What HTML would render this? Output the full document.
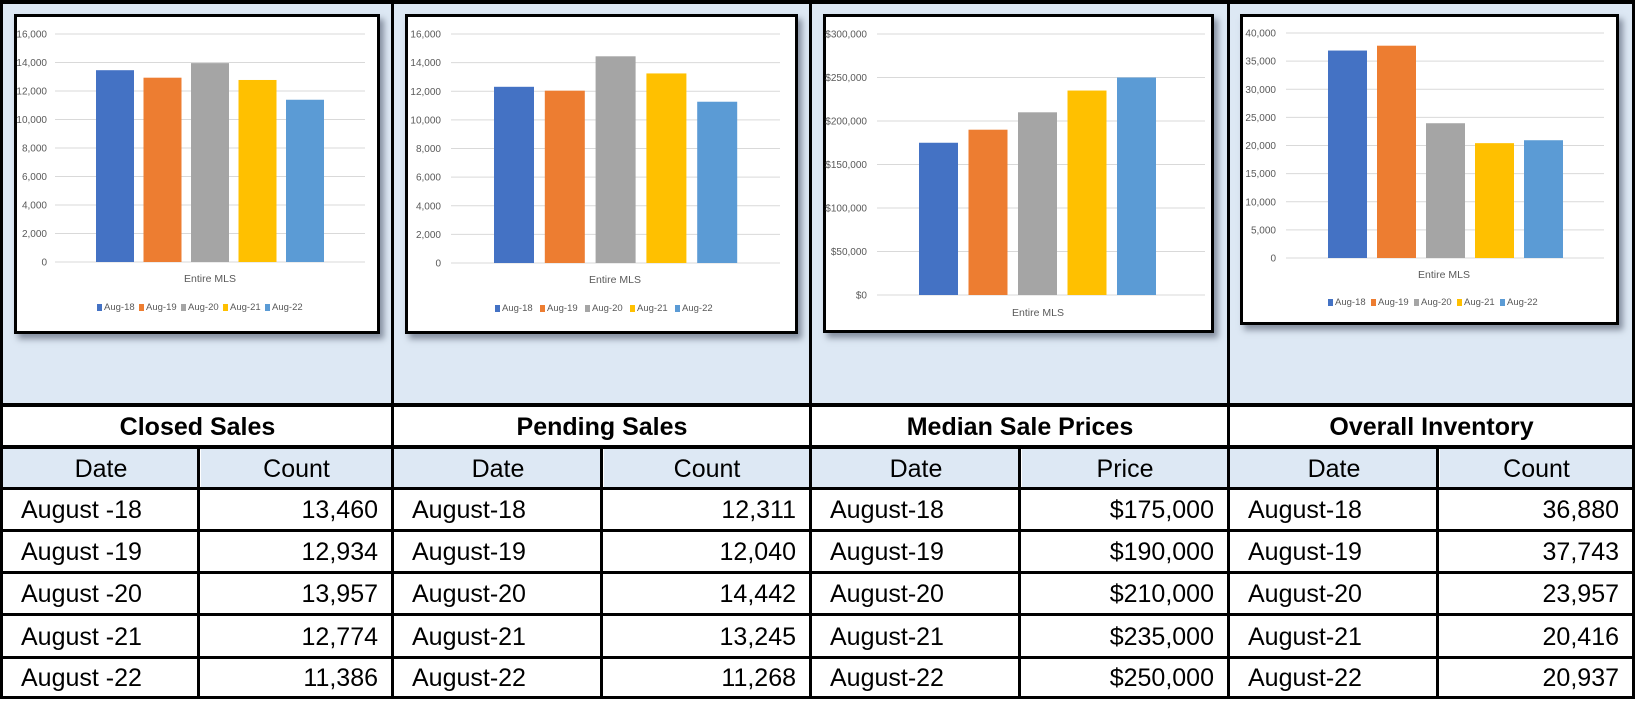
<!DOCTYPE html>
<html><head><meta charset="utf-8">
<style>
body{margin:0;width:1635px;height:701px;overflow:hidden;background:#fff;font-family:"Liberation Sans",sans-serif;position:relative}
.bg{position:absolute;left:0;top:0;width:1635px;height:405px;background:#dde8f4}
.box{position:absolute;background:#fff;border:3px solid #000;box-sizing:border-box;box-shadow:4px 5px 6px rgba(60,70,90,.55)}
.hl{position:absolute;left:0;width:1635px;background:#000}
.vl{position:absolute;width:3px;background:#000}
.cell{position:absolute;height:40px;line-height:42px;font-size:25px;color:#000;white-space:nowrap;box-sizing:border-box}
.ttl{font-weight:bold;text-align:center;font-size:25px}
.hd{text-align:center;background:#dde8f4}
.l{padding-left:18px}
.r{text-align:right;padding-right:14px}
svg{position:absolute;left:0;top:0}
</style></head><body>
<div class="bg"></div>
<div class="box" style="left:14px;top:14px;width:366px;height:320px"></div>
<div class="box" style="left:405px;top:14px;width:393px;height:320px"></div>
<div class="box" style="left:823px;top:14px;width:391px;height:319px"></div>
<div class="box" style="left:1240px;top:14px;width:379px;height:311px"></div>
<svg id="charts" width="1635" height="701"></svg>
<div id="table"></div>
<script>
const categories = ["Aug-18","Aug-19","Aug-20","Aug-21","Aug-22"];
const dates = ["August-18","August-19","August-20","August-21","August-22"];
const closedDates = ["August -18","August -19","August -20","August -21","August -22"];
const closedSales = [13460,12934,13957,12774,11386];
const pendingSales = [12311,12040,14442,13245,11268];
const medianPrices = [175000,190000,210000,235000,250000];
const inventory = [36880,37743,23957,20416,20937];
const countTicks = [0,2000,4000,6000,8000,10000,12000,14000,16000];
const priceTicks = [0,50000,100000,150000,200000,250000,300000];
const invTicks = [0,5000,10000,15000,20000,25000,30000,35000,40000];
const colors = ["#4472c4","#ed7d31","#a5a5a5","#ffc000","#5b9bd5"];
const NS = "http://www.w3.org/2000/svg";
const svg = document.getElementById("charts");
function mk(tag, attrs, parent){const e=document.createElementNS(NS,tag);for(const k in attrs)e.setAttribute(k,attrs[k]);(parent||svg).appendChild(e);return e;}
function fmt(v,money){return (money?"$":"")+v.toLocaleString("en-US");}
function drawChart(c){
  const g=mk("g",{});
  
  
  const max=c.ticks[c.ticks.length-1];
  const y=v=>c.y0-(v/max)*(c.y0-c.yTop);
  c.ticks.forEach(t=>{
    const ln=mk("line",{x1:c.gx1,x2:c.gx2,y1:y(t),y2:y(t),stroke:"#d9d9d9","stroke-width":1},g);
    
    
    const tx=mk("text",{x:c.lx,y:y(t)+3.5,"text-anchor":"end","font-size":10,fill:"#595959"},g);
    tx.textContent=fmt(t,c.money);
    
    
  });
  c.values.forEach((v,i)=>{
    const r=mk("rect",{x:c.bx+i*c.step,y:y(v),width:c.bw,height:c.y0-y(v),fill:colors[i]},g);
    
    
  });
  const xl=mk("text",{x:c.cx,y:c.xlY,"text-anchor":"middle","font-size":10.5,fill:"#595959"},g);
  xl.textContent="Entire MLS";
  
  
  if(c.legY){
    categories.forEach((cat,i)=>{
      const lx=c.legX+i*c.legStep;
      const s=mk("rect",{x:lx,y:c.legY-6,width:5,height:7,fill:colors[i]},g);
      
      
      const t=mk("text",{x:lx+7,y:c.legY,"font-size":9.5,fill:"#595959"},g);
      t.textContent=cat;
      
      
    });
  }
}
drawChart({name:"closed-sales-plot",values:closedSales,ticks:countTicks,y0:262,yTop:34,gx1:55,gx2:365,lx:47,bx:96,step:47.5,bw:38,cx:210,xlY:282,legY:310,legX:97,legStep:42});
drawChart({name:"pending-sales-plot",values:pendingSales,ticks:countTicks,y0:263,yTop:34,gx1:451,gx2:780,lx:441,bx:494,step:50.8,bw:40,cx:615,xlY:283,legY:311,legX:495,legStep:45});
drawChart({name:"median-price-plot",values:medianPrices,ticks:priceTicks,money:true,y0:295,yTop:34,gx1:877,gx2:1205,lx:867,bx:919,step:49.5,bw:39,cx:1038,xlY:316});
drawChart({name:"inventory-plot",values:inventory,ticks:invTicks,y0:258,yTop:33,gx1:1286,gx2:1604,lx:1276,bx:1328,step:49,bw:39,cx:1444,xlY:278,legY:305,legX:1328,legStep:43});

const T=document.getElementById("table");
function div(cls,style,text,name){const d=document.createElement("div");d.className=cls;d.setAttribute("style",style);if(text!==undefined)d.textContent=text;T.appendChild(d);return d;}
const panels=[{x:3,mid:199,end:392,title:"Closed Sales",h:"Count",d:closedDates,v:closedSales,money:false},
{x:394,mid:602,end:810,title:"Pending Sales",h:"Count",d:dates,v:pendingSales,money:false},
{x:812,mid:1020,end:1228,title:"Median Sale Prices",h:"Price",d:dates,v:medianPrices,money:true},
{x:1230,mid:1438,end:1633,title:"Overall Inventory",h:"Count",d:dates,v:inventory,money:false}];
const rowTops=[407,449,490,532,574,616,659];
const rowBots=[445,487,529,571,613,656,696];
panels.forEach(p=>{
  const kebab=p.title.toLowerCase().replace(/ /g,'-');
  div("cell ttl",`left:${p.x}px;top:${rowTops[0]}px;width:${p.end-p.x}px;height:${rowBots[0]-rowTops[0]}px;line-height:40px`,p.title,kebab+'-title');
  div("cell hd",`left:${p.x}px;top:${rowTops[1]}px;width:${p.mid-p.x}px;height:${rowBots[1]-rowTops[1]}px;line-height:40px`,"Date",'date-header');
  div("cell hd",`left:${p.mid+2}px;top:${rowTops[1]}px;width:${p.end-p.mid-2}px;height:${rowBots[1]-rowTops[1]}px;line-height:40px`,p.h,'value-header');
  p.d.forEach((d,i)=>{
    const t=rowTops[i+2],h=rowBots[i+2]-t;
    div("cell l",`left:${p.x}px;top:${t}px;width:${p.mid-p.x}px;height:${h}px;line-height:${h+2}px`,d,'date-cell');
    div("cell r",`left:${p.mid+2}px;top:${t}px;width:${p.end-p.mid-2}px;height:${h}px;line-height:${h+2}px`,fmt(p.v[i],p.money),'value-cell');
  });
});
[[0,4],[403,4],[445,4],[487,3],[529,3],[571,3],[613,3],[656,3],[696,3]].forEach(a=>{div("hl",`top:${a[0]}px;height:${a[1]}px`,undefined,'table-rule');});
[0,391,809,1227,1632].forEach(x=>{div("vl",`left:${x}px;top:0;height:699px`,undefined,'panel-divider');});
[197,600,1018,1436].forEach(x=>{div("vl",`left:${x}px;top:445px;height:254px`,undefined,'column-divider');});
</script>
</body></html>
